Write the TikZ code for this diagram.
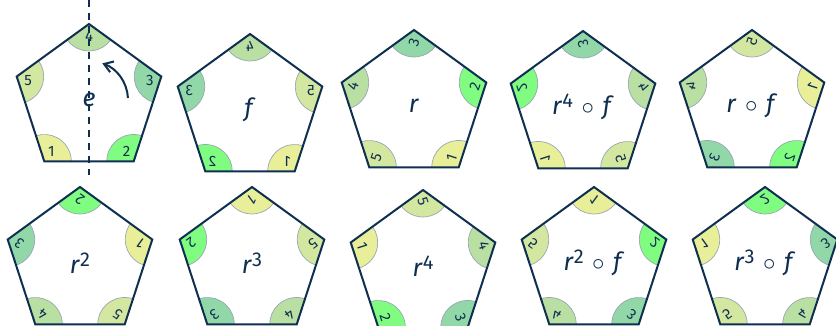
\documentclass[tikz,border=0pt]{standalone}
\usepackage{fontspec}
\setmainfont{Fira Sans}
\usepackage{tikz}
\usetikzlibrary{arrows.meta}
\definecolor{cnavy}{HTML}{0E2F50}
\definecolor{cone}{HTML}{E8EF98}
\definecolor{ctwo}{HTML}{80FC80}
\definecolor{cthree}{HTML}{92D7A8}
\definecolor{cfour}{HTML}{BADFA2}
\definecolor{cfive}{HTML}{D4E7A0}
\definecolor{crim}{HTML}{9AA6B4}
\newcommand{\expo}[1]{\raisebox{7pt}{\fontsize{20}{20}\selectfont #1}}
\newcommand{\comp}{\hspace{3pt}${}\circ{}$\hspace{3pt}}
\tikzset{
  pedge/.style={draw=cnavy, line width=2pt, line join=miter},
  rim/.style={draw=crim, line width=0.7pt},
  vnum/.style={text=cnavy, font=\fontsize{15}{16}\selectfont, inner sep=0pt,
               transform shape},
  elem/.style={text=cnavy, font=\fontsize{25}{30}\selectfont, inner sep=0pt},
  mirror/.style={draw=cnavy, line width=2pt, dash pattern=on 7pt off 6pt},
  spin/.style={draw=cnavy, line width=2pt, -{Straight Barb[length=3mm,width=4mm]}},
  penta/.pic={
    \foreach \a/\n/\c in {90/4/cfour, 18/3/cthree, -54/2/ctwo, -126/1/cone, 162/5/cfive}{
      \fill[\c] (\a:76pt) -- ++(\a+126:27pt)
        arc[start angle=\a+126, end angle=\a+234, radius=27pt] -- cycle;
      \draw[rim] (\a:76pt) ++(\a+126:27pt)
        arc[start angle=\a+126, end angle=\a+234, radius=27pt];
      \node[vnum] (-v\n) at (\a:64pt) {\n};
    }
    \draw[pedge] (90:76pt) -- (18:76pt) -- (-54:76pt) -- (-126:76pt) -- (162:76pt) -- cycle;
  },
}

\begin{document}
\begin{tikzpicture}[x=1pt, y=1pt]
  \clip (0,0) rectangle (836,326);
  \fill[white] (0,0) rectangle (836,326);
  % top row
  \pic (pe) at (89,226) {penta};
  \pic[xscale=-1] (pf) at (250,216) {penta};
  \pic[rotate=72] (pr) at (414,220) {penta};
  \pic[rotate=288, xscale=-1] (prfourf) at (583,219) {penta};
  \pic[rotate=72, xscale=-1] (prf) at (752,220) {penta};
  % bottom row
  \pic[rotate=144] (prtwo) at (80,63) {penta};
  \pic[rotate=216] (prthree) at (252,63) {penta};
  \pic[rotate=288] (prfour) at (423,60) {penta};
  \pic[rotate=144, xscale=-1] (prtwof) at (594,63) {penta};
  \pic[rotate=216, xscale=-1] (prthreef) at (765,63) {penta};

  \node[elem] (le) at (89,226) {\textit{e}};
  \node[elem] (lf) at (250,216) {\textit{f}};
  \node[elem] (lr) at (414,220) {\textit{r}};
  \node[elem] (lrfourf) at (583,219) {\textit{r}\expo{4}\comp\textit{f}};
  \node[elem] (lrf) at (752,220) {\textit{r}\comp\textit{f}};
  \node[elem] (lrtwo) at (80,63) {\textit{r}\expo{2}};
  \node[elem] (lrthree) at (252,63) {\textit{r}\expo{3}};
  \node[elem] (lrfour) at (423,60) {\textit{r}\expo{4}};
  \node[elem] (lrtwof) at (594,63) {\textit{r}\expo{2}\comp\textit{f}};
  \node[elem] (lrthreef) at (765,63) {\textit{r}\expo{3}\comp\textit{f}};

  % reflection axis and rotation sense
  \coordinate (ce) at (89,226);
  \coordinate (axtop) at (89,326);
  \coordinate (axbot) at (89,151);
  \draw[mirror] (axtop) -- (axbot);
  \draw[spin] ([shift={(3:39pt)}]ce) arc[start angle=3, end angle=70, radius=39pt];
\end{tikzpicture}
\end{document}
